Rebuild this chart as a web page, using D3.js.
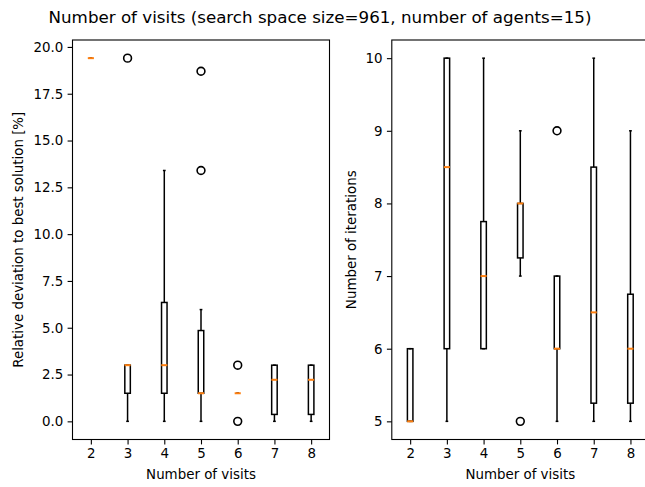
<!DOCTYPE html>
<html>
<head>
<meta charset="utf-8">
<script src="https://cdn.jsdelivr.net/npm/d3@7"></script>
<style>
  html, body { margin: 0; padding: 0; background: #fff; }
  svg { display: block; font-family: "DejaVu Sans", sans-serif; }
</style>
</head>
<body>
<svg id="chart" width="645" height="487"></svg>
<script>
// Categories: number of visits
const visits = ["2", "3", "4", "5", "6", "7", "8"];

// Relative deviation to best solution [%] — box statistics per visit count
const devLow     = [19.4, 0.0, 0.0, 0.0, 1.5, 0.0, 0.0];
const devQ1      = [19.4, 1.5, 1.5, 1.5, 1.5, 0.37, 0.37];
const devMedian  = [19.4, 3.0, 3.0, 1.5, 1.5, 2.22, 2.22];
const devQ3      = [19.4, 3.0, 6.35, 4.85, 1.5, 3.0, 3.0];
const devHigh    = [19.4, 3.0, 13.4, 5.97, 1.5, 3.0, 3.0];
const devOutliers = [[], [19.4], [], [18.7, 13.4], [3.0, 0.0], [], []];
const devTicks   = [0, 2.5, 5, 7.5, 10, 12.5, 15, 17.5, 20];

// Number of iterations — box statistics per visit count
const iterLow     = [5, 5, 6, 7, 5, 5, 5];
const iterQ1      = [5, 6, 6, 7.25, 6, 5.25, 5.25];
const iterMedian  = [5, 8.5, 7, 8, 6, 6.5, 6];
const iterQ3      = [6, 10, 7.75, 8, 7, 8.5, 6.75];
const iterHigh    = [6, 10, 10, 9, 7, 10, 9];
const iterOutliers = [[], [], [], [5], [9], [], []];
const iterTicks   = [5, 6, 7, 8, 9, 10];

const svg = d3.select("#chart");

svg.append("text")
  .attr("x", 320).attr("y", 23)
  .attr("text-anchor", "middle")
  .attr("font-size", 16.7)
  .text("Number of visits (search space size=961, number of agents=15)");

function drawPanel(opts) {
  const { left, top, width, height, low, q1, med, q3, high, outliers, ticks, fmt, ylabel, ylabelX } = opts;
  const g = svg.append("g");

  const x = d3.scalePoint().domain(visits).range([left, left + width]).padding(0.5);
  const step = x.step();
  const yMin = d3.min([...low, ...outliers.flat()]);
  const yMax = d3.max([...high, ...outliers.flat()]);
  const pad = (yMax - yMin) * 0.05;
  const y = d3.scaleLinear().domain([yMin - pad, yMax + pad]).range([top + height, top]);

  const boxW = step * 0.15;
  const capW = boxW / 2;

  // axes
  const xAxis = d3.axisBottom(x).tickSize(4.9).tickPadding(4.4);
  const yAxis = d3.axisLeft(y).tickValues(ticks).tickFormat(fmt).tickSize(4.9).tickPadding(4.4);

  const gx = g.append("g").attr("transform", `translate(0,${top + height})`).call(xAxis);
  const gy = g.append("g").attr("transform", `translate(${left},0)`).call(yAxis);
  [gx, gy].forEach(a => {
    a.select(".domain").remove();
    a.selectAll(".tick line").attr("stroke", "#000").attr("stroke-width", 1.1);
    a.selectAll(".tick text").attr("font-size", 13.4).attr("fill", "#000")
      .attr("font-family", "DejaVu Sans, sans-serif");
  });

  // frame
  g.append("rect")
    .attr("x", left).attr("y", top).attr("width", width).attr("height", height)
    .attr("fill", "none").attr("stroke", "#000").attr("stroke-width", 1.1);

  const idx = d3.range(visits.length);
  const cx = i => x(visits[i]);

  const lines = g.append("g").attr("stroke", "#000").attr("stroke-width", 1.5).attr("fill", "none");
  // whiskers
  idx.forEach(i => {
    lines.append("line").attr("x1", cx(i)).attr("x2", cx(i)).attr("y1", y(q1[i])).attr("y2", y(low[i]));
    lines.append("line").attr("x1", cx(i)).attr("x2", cx(i)).attr("y1", y(q3[i])).attr("y2", y(high[i]));
  });
  // caps
  idx.forEach(i => {
    [low[i], high[i]].forEach(v => {
      lines.append("line").attr("x1", cx(i) - capW / 2).attr("x2", cx(i) + capW / 2)
        .attr("y1", y(v)).attr("y2", y(v));
    });
  });
  // boxes
  idx.forEach(i => {
    lines.append("rect")
      .attr("x", cx(i) - boxW / 2).attr("width", boxW)
      .attr("y", y(q3[i])).attr("height", Math.max(0, y(q1[i]) - y(q3[i])));
  });
  // medians
  idx.forEach(i => {
    g.append("line")
      .attr("x1", cx(i) - boxW / 2 - 0.3).attr("x2", cx(i) + boxW / 2 + 0.3)
      .attr("y1", y(med[i])).attr("y2", y(med[i]))
      .attr("stroke", "#ff7f0e").attr("stroke-width", 2);
  });
  // outliers
  idx.forEach(i => {
    outliers[i].forEach(v => {
      g.append("circle").attr("cx", cx(i)).attr("cy", y(v)).attr("r", 3.9)
        .attr("fill", "none").attr("stroke", "#000").attr("stroke-width", 1.6);
    });
  });

  // axis labels
  g.append("text")
    .attr("x", left + width / 2).attr("y", top + height + 39)
    .attr("text-anchor", "middle").attr("font-size", 13.4)
    .text("Number of visits");
  g.append("text")
    .attr("transform", `translate(${ylabelX},${top + height / 2}) rotate(-90)`)
    .attr("text-anchor", "middle").attr("font-size", 13.4)
    .text(ylabel);
}

drawPanel({
  left: 72.5, top: 40, width: 257, height: 399.5,
  low: devLow, q1: devQ1, med: devMedian, q3: devQ3, high: devHigh, outliers: devOutliers,
  ticks: devTicks, fmt: d3.format(".1f"),
  ylabel: "Relative deviation to best solution [%]", ylabelX: 23
});

drawPanel({
  left: 391.8, top: 40, width: 257, height: 399.5,
  low: iterLow, q1: iterQ1, med: iterMedian, q3: iterQ3, high: iterHigh, outliers: iterOutliers,
  ticks: iterTicks, fmt: d3.format("d"),
  ylabel: "Number of iterations", ylabelX: 356
});
</script>
</body>
</html>
